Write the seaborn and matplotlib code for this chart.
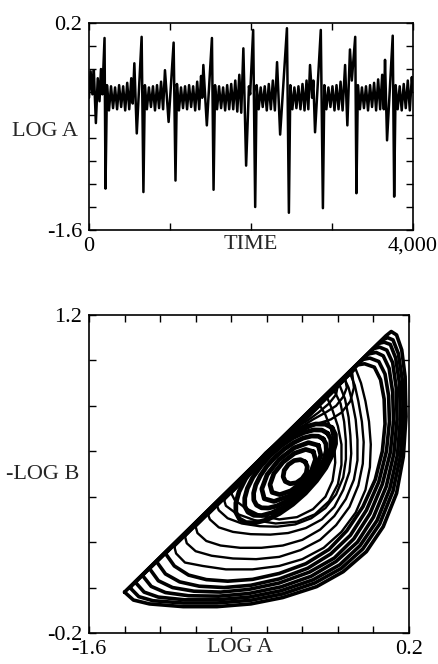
import matplotlib
matplotlib.use('Agg')
import matplotlib.pyplot as plt
import pandas as pd
import seaborn as sns

# --------------------------------------------------------------------------- #
# Top panel: turning points of log A read off the trace
time = [0, 20, 42, 60, 85, 108, 130, 148, 165, 192, 204,
        222, 247, 272, 297, 322, 347, 372, 397, 422, 447, 472, 497, 522, 540, 560, 590, 650, 672,
        690, 715, 740, 765, 790, 815, 840, 865, 890, 915, 938, 983, 1045, 1068,
        1086, 1111, 1136, 1161, 1186, 1211, 1236, 1261, 1286, 1311, 1336, 1361, 1384, 1398, 1412,
        1455, 1518, 1538,
        1556, 1581, 1606, 1631, 1656, 1681, 1706, 1731, 1756, 1781, 1806, 1831, 1856, 1880, 1906,
        1940, 1975, 1990, 2027, 2052,
        2070, 2095, 2120, 2145, 2170, 2195, 2220, 2245, 2270, 2295, 2322, 2360, 2444, 2468,
        2486, 2511, 2536, 2561, 2586, 2611, 2636, 2661, 2686, 2708, 2729, 2755, 2770, 2791, 2862, 2888,
        2906, 2931, 2956, 2981, 3006, 3031, 3056, 3081, 3106, 3131, 3162, 3190, 3222, 3245, 3287, 3302,
        3320, 3345, 3370, 3395, 3420, 3445, 3470, 3495, 3520, 3545, 3570, 3595, 3620, 3640, 3655,
        3680, 3750, 3768,
        3786, 3811, 3836, 3861, 3886, 3911, 3936, 3961, 3986, 4000]
log_a = [-0.45, -0.22, -0.42, -0.21, -0.67, -0.28, -0.48, -0.20, -0.42, 0.07, -1.24,
         -0.34, -0.56, -0.35, -0.54, -0.36, -0.55, -0.34, -0.53, -0.35, -0.56, -0.32, -0.55, -0.28, -0.50, -0.15, -0.76, 0.08, -1.27,
         -0.34, -0.55, -0.36, -0.53, -0.35, -0.56, -0.34, -0.54, -0.31, -0.55, -0.21, -0.66, 0.03, -1.17,
         -0.33, -0.56, -0.36, -0.54, -0.35, -0.55, -0.34, -0.53, -0.35, -0.56, -0.31, -0.55, -0.26, -0.45, -0.165,
         -0.69, 0.07, -1.25,
         -0.34, -0.55, -0.35, -0.54, -0.36, -0.56, -0.34, -0.55, -0.33, -0.55, -0.30, -0.57, -0.25, -0.58, -0.02,
         -1.04, -0.35, -0.42, 0.14, -1.40,
         -0.34, -0.55, -0.36, -0.53, -0.35, -0.56, -0.33, -0.55, -0.30, -0.56, -0.14, -0.77, 0.155, -1.45,
         -0.34, -0.55, -0.36, -0.54, -0.35, -0.55, -0.33, -0.56, -0.30, -0.55, -0.165, -0.45, -0.30, -0.75, 0.14, -1.41,
         -0.34, -0.55, -0.36, -0.53, -0.35, -0.56, -0.34, -0.55, -0.31, -0.56, -0.165, -0.69, -0.03, -0.30, 0.08, -1.28,
         -0.34, -0.55, -0.36, -0.54, -0.35, -0.56, -0.34, -0.53, -0.32, -0.56, -0.29, -0.55, -0.25, -0.55, -0.12,
         -0.82, 0.09, -1.31,
         -0.34, -0.55, -0.35, -0.56, -0.33, -0.54, -0.30, -0.56, -0.27, -0.40]

# --------------------------------------------------------------------------- #
# Bottom panel: loops of the attractor (log A, -log B)
# outer band: tip on the diagonal -> lower arc -> top on the diagonal
a1 = [(-1.40, -0.02), (-1.35, -0.055), (-1.26, -0.072), (-1.07, -0.084), (-0.88, -0.084),
      (-0.69, -0.072), (-0.51, -0.044), (-0.32, 0.004), (-0.17, 0.07), (-0.04, 0.158),
      (0.055, 0.268), (0.13, 0.415), (0.168, 0.576), (0.183, 0.752), (0.178, 0.928),
      (0.159, 1.046), (0.13, 1.112), (0.10, 1.127), (0.07, 1.108)]
a2 = [(-1.37, 0.0), (-1.32, -0.04), (-1.24, -0.058), (-1.07, -0.068), (-0.88, -0.068),
      (-0.69, -0.056), (-0.51, -0.028), (-0.33, 0.02), (-0.18, 0.085), (-0.06, 0.17),
      (0.035, 0.28), (0.11, 0.425), (0.152, 0.58), (0.168, 0.75), (0.162, 0.915),
      (0.14, 1.03), (0.11, 1.09), (0.08, 1.10), (0.05, 1.09)]
a3 = [(-1.34, 0.024), (-1.29, -0.02), (-1.21, -0.042), (-1.06, -0.054), (-0.88, -0.054),
      (-0.70, -0.042), (-0.52, -0.014), (-0.34, 0.034), (-0.19, 0.10), (-0.075, 0.185),
      (0.02, 0.295), (0.092, 0.435), (0.135, 0.585), (0.152, 0.745), (0.146, 0.90),
      (0.125, 1.01), (0.095, 1.07), (0.06, 1.08), (0.03, 1.075)]
a4 = [(-1.30, 0.054), (-1.25, 0.005), (-1.17, -0.022), (-1.04, -0.036), (-0.87, -0.038),
      (-0.70, -0.026), (-0.52, 0.003), (-0.35, 0.05), (-0.21, 0.115), (-0.09, 0.20),
      (0.0, 0.31), (0.072, 0.445), (0.115, 0.59), (0.133, 0.74), (0.128, 0.88),
      (0.108, 0.99), (0.075, 1.045), (0.035, 1.058), (0.0, 1.052)]
a5 = [(-1.26, 0.084), (-1.21, 0.03), (-1.13, 0.0), (-1.01, -0.016), (-0.86, -0.02),
      (-0.70, -0.008), (-0.53, 0.02), (-0.36, 0.068), (-0.22, 0.13), (-0.11, 0.215),
      (-0.02, 0.325), (0.05, 0.455), (0.095, 0.595), (0.113, 0.735), (0.108, 0.86),
      (0.088, 0.965), (0.055, 1.02), (0.015, 1.035), (-0.03, 1.028)]
a6 = [(-1.22, 0.114), (-1.17, 0.06), (-1.09, 0.025), (-0.98, 0.006), (-0.84, 0.0),
      (-0.69, 0.01), (-0.53, 0.038), (-0.37, 0.085), (-0.24, 0.148), (-0.13, 0.23),
      (-0.04, 0.34), (0.03, 0.465), (0.073, 0.60), (0.09, 0.73), (0.085, 0.845),
      (0.065, 0.94), (0.03, 0.995), (-0.02, 1.01), (-0.06, 1.004)]
a7 = [(-1.17, 0.15), (-1.12, 0.095), (-1.04, 0.055), (-0.94, 0.035), (-0.82, 0.028),
      (-0.68, 0.036), (-0.53, 0.062), (-0.38, 0.105), (-0.25, 0.168), (-0.15, 0.25),
      (-0.06, 0.355), (0.01, 0.475), (0.05, 0.60), (0.065, 0.72), (0.06, 0.83),
      (0.04, 0.915), (0.005, 0.97), (-0.05, 0.985), (-0.09, 0.98)]
# middle loops, split off the diagonal further up
b1 = [(-1.12, 0.18), (-1.11, 0.15), (-1.06, 0.11), (-0.96, 0.095), (-0.83, 0.08),
      (-0.68, 0.08), (-0.53, 0.095), (-0.40, 0.125), (-0.28, 0.175), (-0.18, 0.245),
      (-0.10, 0.33), (-0.045, 0.43), (-0.02, 0.53), (-0.015, 0.63), (-0.025, 0.73),
      (-0.045, 0.82), (-0.07, 0.90), (-0.10, 0.962)]
b2 = [(-1.06, 0.225), (-1.05, 0.195), (-1.0, 0.16), (-0.91, 0.14), (-0.79, 0.128),
      (-0.66, 0.125), (-0.53, 0.135), (-0.41, 0.165), (-0.30, 0.21), (-0.21, 0.275),
      (-0.135, 0.355), (-0.085, 0.45), (-0.06, 0.545), (-0.055, 0.64), (-0.065, 0.73),
      (-0.085, 0.82), (-0.105, 0.89), (-0.13, 0.94)]
b3 = [(-1.0, 0.268), (-0.99, 0.24), (-0.94, 0.205), (-0.86, 0.185), (-0.75, 0.175),
      (-0.63, 0.175), (-0.51, 0.185), (-0.40, 0.21), (-0.30, 0.255), (-0.22, 0.315),
      (-0.155, 0.39), (-0.11, 0.475), (-0.09, 0.56), (-0.09, 0.65), (-0.10, 0.74),
      (-0.12, 0.82), (-0.14, 0.88), (-0.16, 0.914)]
b4 = [(-0.93, 0.32), (-0.92, 0.30), (-0.87, 0.265), (-0.79, 0.245), (-0.69, 0.235),
      (-0.58, 0.233), (-0.48, 0.24), (-0.38, 0.262), (-0.29, 0.30), (-0.22, 0.355),
      (-0.17, 0.43), (-0.135, 0.51), (-0.125, 0.59), (-0.13, 0.67), (-0.14, 0.75),
      (-0.16, 0.83), (-0.19, 0.89)]
b5 = [(-0.88, 0.36), (-0.87, 0.34), (-0.82, 0.305), (-0.74, 0.282), (-0.64, 0.27),
      (-0.54, 0.268), (-0.44, 0.278), (-0.35, 0.305), (-0.27, 0.35), (-0.21, 0.41),
      (-0.17, 0.485), (-0.155, 0.565), (-0.155, 0.645), (-0.165, 0.73), (-0.185, 0.81),
      (-0.22, 0.865)]
c1 = [(-0.84, 0.385), (-0.83, 0.36), (-0.77, 0.325), (-0.67, 0.297), (-0.55, 0.282),
      (-0.43, 0.29), (-0.33, 0.322), (-0.25, 0.38), (-0.20, 0.455), (-0.18, 0.54),
      (-0.18, 0.63), (-0.20, 0.71), (-0.23, 0.78), (-0.26, 0.835)]
c2 = [(-0.80, 0.415), (-0.78, 0.385), (-0.72, 0.35), (-0.63, 0.315), (-0.53, 0.300),
      (-0.43, 0.310), (-0.34, 0.345), (-0.27, 0.40), (-0.23, 0.47), (-0.215, 0.55),
      (-0.22, 0.63), (-0.24, 0.70), (-0.27, 0.76), (-0.30, 0.80)]
# thin loops hugging the diagonal above the centre
l1 = [(-0.50, 0.66), (-0.42, 0.70), (-0.34, 0.74), (-0.27, 0.77), (-0.21, 0.80),
      (-0.17, 0.84), (-0.15, 0.88), (-0.16, 0.922)]
l2 = [(-0.45, 0.70), (-0.38, 0.73), (-0.31, 0.77), (-0.25, 0.81), (-0.21, 0.85),
      (-0.20, 0.893)]
l3 = [(-0.56, 0.615), (-0.48, 0.66), (-0.40, 0.69), (-0.32, 0.72), (-0.24, 0.74),
      (-0.18, 0.77), (-0.13, 0.82), (-0.11, 0.88), (-0.12, 0.948)]
# rings wound round the central hole, packed against the diagonal
r0 = [(-0.384, 0.553), (-0.372, 0.532), (-0.378, 0.504), (-0.401, 0.479), (-0.434, 0.461),
      (-0.469, 0.457), (-0.496, 0.467), (-0.508, 0.488), (-0.502, 0.516), (-0.479, 0.541),
      (-0.446, 0.559), (-0.411, 0.563)]
r2 = [(-0.338, 0.598), (-0.326, 0.564), (-0.348, 0.515), (-0.399, 0.465), (-0.464, 0.426),
      (-0.527, 0.409), (-0.570, 0.419), (-0.582, 0.453), (-0.560, 0.502), (-0.509, 0.552),
      (-0.444, 0.591), (-0.381, 0.608)]
r3 = [(-0.310, 0.626), (-0.296, 0.583), (-0.326, 0.520), (-0.393, 0.454), (-0.478, 0.402),
      (-0.559, 0.379), (-0.614, 0.391), (-0.628, 0.434), (-0.598, 0.497), (-0.531, 0.563),
      (-0.446, 0.615), (-0.365, 0.638)]
r4 = [(-0.282, 0.654), (-0.267, 0.632), (-0.265, 0.602), (-0.278, 0.565), (-0.304, 0.524),
      (-0.341, 0.483), (-0.387, 0.443), (-0.438, 0.407), (-0.492, 0.379), (-0.544, 0.359),
      (-0.591, 0.350), (-0.630, 0.351), (-0.658, 0.363), (-0.673, 0.385), (-0.674, 0.416),
      (-0.662, 0.452), (-0.636, 0.493), (-0.599, 0.535), (-0.553, 0.574), (-0.501, 0.610),
      (-0.448, 0.638), (-0.395, 0.658), (-0.348, 0.667), (-0.310, 0.666)]
r5 = [(-0.258, 0.679), (-0.240, 0.653), (-0.239, 0.617), (-0.255, 0.574), (-0.286, 0.526),
      (-0.330, 0.476), (-0.385, 0.429), (-0.446, 0.386), (-0.510, 0.352), (-0.572, 0.329),
      (-0.628, 0.317), (-0.673, 0.318), (-0.706, 0.332), (-0.724, 0.358), (-0.724, 0.394),
      (-0.709, 0.437), (-0.678, 0.486), (-0.633, 0.535), (-0.579, 0.582), (-0.517, 0.625),
      (-0.454, 0.659), (-0.392, 0.682), (-0.336, 0.694), (-0.290, 0.693)]
r6 = [(-0.233, 0.704), (-0.214, 0.674), (-0.213, 0.633), (-0.232, 0.583), (-0.268, 0.527),
      (-0.320, 0.470), (-0.383, 0.415), (-0.454, 0.366), (-0.528, 0.326), (-0.600, 0.298),
      (-0.664, 0.285), (-0.717, 0.286), (-0.754, 0.302), (-0.774, 0.331), (-0.774, 0.372),
      (-0.756, 0.422), (-0.720, 0.478), (-0.668, 0.535), (-0.604, 0.590), (-0.533, 0.639),
      (-0.459, 0.679), (-0.388, 0.707), (-0.324, 0.720), (-0.271, 0.719)]

band_loops = [a1, a2, a3, a4, a5, a6, a7]
middle_loops = [b1, b2, b3, b4, b5, c1, c2, l1, l2, l3]
rings = [r0, r2, r3, r4, r5, r6]


def loop_frame(loops):
    rows = []
    for k, loop in enumerate(loops):
        for j, (x, y) in enumerate(loop + [loop[0]]):
            rows.append({'loop': k, 'step': j, 'x': x, 'y': y})
    return pd.DataFrame(rows)


# --------------------------------------------------------------------------- #
sns.set_theme(style='ticks')
plt.rcParams['font.family'] = ['Liberation Serif', 'DejaVu Serif']
plt.rcParams['lines.solid_joinstyle'] = 'round'
fs = 16

fig = plt.figure(figsize=(4.39, 6.64), dpi=100)
ax1 = fig.add_axes([0.2027, 0.6536, 0.738, 0.3117])
ax2 = fig.add_axes([0.2027, 0.0467, 0.729, 0.479])

_ = sns.lineplot(x=time, y=log_a, color='black', linewidth=1.8,
                 estimator=None, ax=ax1)
_ = sns.lineplot(data=loop_frame(band_loops), x='x', y='y', units='loop',
                 estimator=None, sort=False, color='black', linewidth=2.6, ax=ax2)
_ = sns.lineplot(data=loop_frame(middle_loops), x='x', y='y', units='loop',
                 estimator=None, sort=False, color='black', linewidth=1.7, ax=ax2)
_ = sns.lineplot(data=loop_frame(rings), x='x', y='y', units='loop',
                 estimator=None, sort=False, color='black', linewidth=3.4, ax=ax2)

# Top axes
ax1.set_xlim(0, 4000)
ax1.set_ylim(-1.6, 0.2)
ax1.set_xticks([0, 1000, 2000, 3000, 4000])
ax1.set_xticklabels(['0', '', '', '', '4,000'])
ax1.set_yticks([-1.6, -1.4, -1.2, -1.0, -0.8, -0.6, -0.4, -0.2, 0.0, 0.2])
ax1.set_yticklabels(['-1.6', '', '', '', '', '', '', '', '', '0.2'])
ax1.set_xlabel('TIME', fontsize=fs, va='top')
ax1.xaxis.set_label_coords(0.5, -0.025)
ax1.set_ylabel('LOG A', fontsize=fs, rotation=0, ha='right', va='center')
ax1.yaxis.set_label_coords(-0.034, 0.478)

# Bottom axes
ax2.set_xlim(-1.6, 0.2)
ax2.set_ylim(-0.2, 1.2)
ax2.set_xticks([-1.6, -1.4, -1.2, -1.0, -0.8, -0.6, -0.4, -0.2, 0.0, 0.2])
ax2.set_xticklabels(['-1.6', '', '', '', '', '', '', '', '', '0.2'])
ax2.set_yticks([-0.2, 0.0, 0.2, 0.4, 0.6, 0.8, 1.0, 1.2])
ax2.set_yticklabels(['-0.2', '', '', '', '', '', '', '1.2'])
ax2.set_xlabel('LOG A', fontsize=fs, va='top')
ax2.xaxis.set_label_coords(0.472, -0.016)
ax2.set_ylabel('-LOG B', fontsize=fs, rotation=0, ha='right', va='center')
ax2.yaxis.set_label_coords(-0.031, 0.497)

for ax in (ax1, ax2):
    ax.tick_params(direction='in', length=5, width=1, top=True, right=True,
                   labelsize=fs, pad=5, colors='black')
    for s in ax.spines.values():
        s.set_visible(True)
        s.set_linewidth(1.2)
        s.set_color('black')

fig.savefig('out.png', dpi=100, facecolor='white')
